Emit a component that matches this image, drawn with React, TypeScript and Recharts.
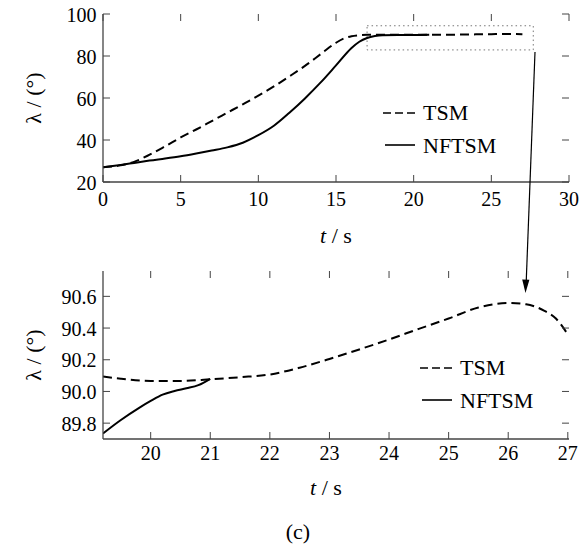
import {
  LineChart,
  Line,
  XAxis,
  YAxis,
  ReferenceArea,
  Legend,
} from "recharts";

// top panel: full run 0-30 s
const topTsmT = [0, 1, 2, 3, 4, 5, 6, 7, 8, 9, 10, 11, 12, 13, 14, 15, 15.5, 16, 16.5, 17, 18, 19, 20, 21, 22, 23, 24, 25, 26, 27];
const topTsmV = [27, 27.8, 29.6, 33, 37, 41.2, 45, 49, 53, 57, 61.1, 65.5, 70.3, 75.3, 80.8, 86.3, 88.3, 89.4, 89.9, 90.1, 90.1, 90.1, 90.1, 90.1, 90.1, 90.2, 90.3, 90.4, 90.5, 90.4];
const topNftT = [0, 1, 2, 3, 4, 5, 6, 7, 8, 9, 10, 11, 12, 13, 14, 15, 16, 16.5, 17, 17.5, 18, 19, 20, 21];
const topNftV = [27, 28, 29, 30.2, 31.2, 32.3, 33.6, 35, 36.5, 38.7, 42.3, 46.8, 53, 59.8, 67.3, 75.5, 83.8, 86.8, 88.6, 89.5, 89.9, 90, 90, 90.1];
const topXTicks = [0, 5, 10, 15, 20, 25, 30];
const topYTicks = [20, 40, 60, 80, 100];

// bottom panel: zoom on the dotted box
const btmTsmT = [19.2, 19.5, 20, 20.5, 21, 21.5, 22, 22.5, 23, 23.5, 24, 24.5, 25, 25.5, 26, 26.3, 26.6, 26.8, 27];
const btmTsmV = [90.095, 90.08, 90.066, 90.066, 90.077, 90.09, 90.107, 90.15, 90.205, 90.265, 90.328, 90.395, 90.46, 90.53, 90.558, 90.55, 90.51, 90.46, 90.36];
const btmNftT = [19.2, 19.5, 19.8, 20, 20.2, 20.4, 20.6, 20.8, 21];
const btmNftV = [89.735, 89.82, 89.895, 89.94, 89.98, 90.003, 90.02, 90.04, 90.08];
const btmXTicks = [20, 21, 22, 23, 24, 25, 26, 27];
const btmYTicks = [89.8, 90.0, 90.2, 90.4, 90.6];

const toRows = (ts: number[], vs: number[]) => ts.map((t, i) => ({ t, v: vs[i] }));

const FONT = "'Liberation Serif', 'Times New Roman', serif";
const FRAME = "#444";
const PLOT_L = 103;
const PLOT_R = 569;
const PLOT_H = 168;
const TICK = 7;

// inward tick marks (bottom + top) and label
const xTick = (top: number, bottom: number, base: number) => (props: any) => {
  const { x, payload } = props;
  return (
    <g>
      <line x1={x} x2={x} y1={bottom} y2={bottom - TICK} stroke={FRAME} />
      <line x1={x} x2={x} y1={top} y2={top + TICK} stroke={FRAME} />
      <text x={x} y={bottom + base} textAnchor="middle" style={{ fontSize: 20, fontFamily: FONT }} fill="#000">
        {payload.value}
      </text>
    </g>
  );
};
// inward tick marks (left + right) and label
const yTick = (fmt?: (v: number) => string) => (props: any) => {
  const { y, payload } = props;
  return (
    <g>
      <line x1={PLOT_L} x2={PLOT_L + TICK} y1={y} y2={y} stroke={FRAME} />
      <line x1={PLOT_R} x2={PLOT_R - TICK} y1={y} y2={y} stroke={FRAME} />
      <text x={96.5} y={y + 7.5} textAnchor="end" style={{ fontSize: 20, fontFamily: FONT }} fill="#000">
        {fmt ? fmt(payload.value) : payload.value}
      </text>
    </g>
  );
};

const LegendBox = () => (
  <svg width={180} height={70}>
    <line x1={3} x2={35} y1={16} y2={16} stroke="#000" strokeWidth={1.6} strokeDasharray="8 4" />
    <text x={43} y={23} style={{ fontSize: 22, fontFamily: FONT }} fill="#000">TSM</text>
    <line x1={5} x2={35} y1={48} y2={48} stroke="#000" strokeWidth={1.6} />
    <text x={43} y={56} style={{ fontSize: 22, fontFamily: FONT }} fill="#000">NFTSM</text>
  </svg>
);

const yLabel = (props: any) => {
  const vb = props.viewBox;
  const cx = 33;
  const cy = vb.y + vb.height / 2;
  return (
    <text x={cx} y={cy} transform={`rotate(-90 ${cx} ${cy})`} textAnchor="middle" dominantBaseline="central" style={{ fontSize: 22, fontFamily: FONT }} fill="#000">
      λ / (°)
    </text>
  );
};

const xLabel = (dy: number, dx: number) => (props: any) => {
  const vb = props.viewBox;
  return (
    <text x={vb.x + vb.width / 2 + dx} y={vb.y + dy} textAnchor="middle" style={{ fontSize: 22, fontFamily: FONT }} fill="#000">
      <tspan fontStyle="italic">t</tspan>
      <tspan> / s</tspan>
    </text>
  );
};

type PanelProps = {
  tsm: { t: number; v: number }[];
  nft: { t: number; v: number }[];
  xDomain: number[];
  yDomain: number[];
  xTicks: number[];
  yTicks: number[];
  marginTop: number;
  xAxisHeight: number;
  tickBase: number;
  labelDy: number;
  labelDx: number;
  yFmt?: (v: number) => string;
  legendTop: number;
  legendLeft: number;
  children?: any;
};

const Panel = (p: PanelProps) => {
  const top = p.marginTop;
  const bottom = p.marginTop + PLOT_H;
  const frame = { stroke: FRAME, strokeWidth: 1.3 };
  return (
    <LineChart width={588} height={255} margin={{ top, right: 588 - PLOT_R, bottom: 0, left: 0 }}>
      <XAxis
        dataKey="t"
        type="number"
        domain={p.xDomain}
        ticks={p.xTicks}
        interval={0}
        allowDataOverflow
        height={p.xAxisHeight}
        tickLine={false}
        tick={xTick(top, bottom, p.tickBase)}
        axisLine={frame}
        label={{ content: xLabel(p.labelDy, p.labelDx) }}
      />
      <XAxis
        xAxisId="top"
        orientation="top"
        dataKey="t"
        type="number"
        domain={p.xDomain}
        allowDataOverflow
        height={0}
        tickLine={false}
        tick={false}
        axisLine={frame}
      />
      <YAxis
        type="number"
        domain={p.yDomain}
        ticks={p.yTicks}
        interval={0}
        allowDataOverflow
        width={PLOT_L}
        tickLine={false}
        tick={yTick(p.yFmt)}
        axisLine={frame}
        label={{ content: yLabel }}
      />
      <YAxis
        yAxisId="r"
        orientation="right"
        type="number"
        domain={p.yDomain}
        allowDataOverflow
        width={0}
        tickLine={false}
        tick={false}
        axisLine={frame}
      />
      {p.children}
      <Line
        data={p.tsm}
        dataKey="v"
        type="monotone"
        stroke="#000"
        strokeWidth={2}
        strokeDasharray="9 5"
        dot={false}
        isAnimationActive={false}
      />
      <Line
        data={p.nft}
        dataKey="v"
        type="monotone"
        stroke="#000"
        strokeWidth={2}
        dot={false}
        isAnimationActive={false}
      />
      <Legend
        layout="horizontal"
        verticalAlign="middle"
        align="center"
        wrapperStyle={{ left: p.legendLeft, top: p.legendTop, width: 180, height: 70 }}
        content={() => <LegendBox />}
      />
    </LineChart>
  );
};

export default function App() {
  return (
    <div
      style={{
        position: "absolute",
        left: 0,
        top: 0,
        width: 588,
        height: 550,
        background: "#fff",
        fontFamily: FONT,
      }}
    >
      <div style={{ position: "absolute", left: 0, top: 0 }}>
        <Panel
          tsm={toRows(topTsmT, topTsmV)}
          nft={toRows(topNftT, topNftV)}
          xDomain={[0, 30]}
          yDomain={[20, 100]}
          xTicks={topXTicks}
          yTicks={topYTicks}
          marginTop={14}
          xAxisHeight={73}
          tickBase={24}
          labelDy={61}
          labelDx={0}
          legendLeft={380}
          legendTop={97}
        >
          <ReferenceArea
            x1={17}
            x2={27.7}
            y1={82.9}
            y2={94.4}
            fill="none"
            stroke="#777"
            strokeWidth={1}
            strokeDasharray="1.5 3"
          />
        </Panel>
      </div>
      <div style={{ position: "absolute", left: 0, top: 255 }}>
        <Panel
          tsm={toRows(btmTsmT, btmTsmV)}
          nft={toRows(btmNftT, btmNftV)}
          xDomain={[19.2, 27.02]}
          yDomain={[89.7, 90.76]}
          xTicks={btmXTicks}
          yTicks={btmYTicks}
          marginTop={16}
          xAxisHeight={71}
          tickBase={21}
          labelDy={56}
          labelDx={-10}
          yFmt={(v) => v.toFixed(1)}
          legendLeft={417}
          legendTop={97}
        />
      </div>
      {/* arrow from the dotted box down to the zoomed panel */}
      <svg width={588} height={550} style={{ position: "absolute", left: 0, top: 0, pointerEvents: "none" }}>
        <line x1={535} y1={52} x2={526.2} y2={282} stroke="#000" strokeWidth={1.2} />
        <polygon points="525.5,293 522.2,279.5 529.4,279.8" fill="#000" />
        <text x={298} y={539} textAnchor="middle" style={{ fontSize: 22, fontFamily: FONT }} fill="#000">(c)</text>
      </svg>
    </div>
  );
}
